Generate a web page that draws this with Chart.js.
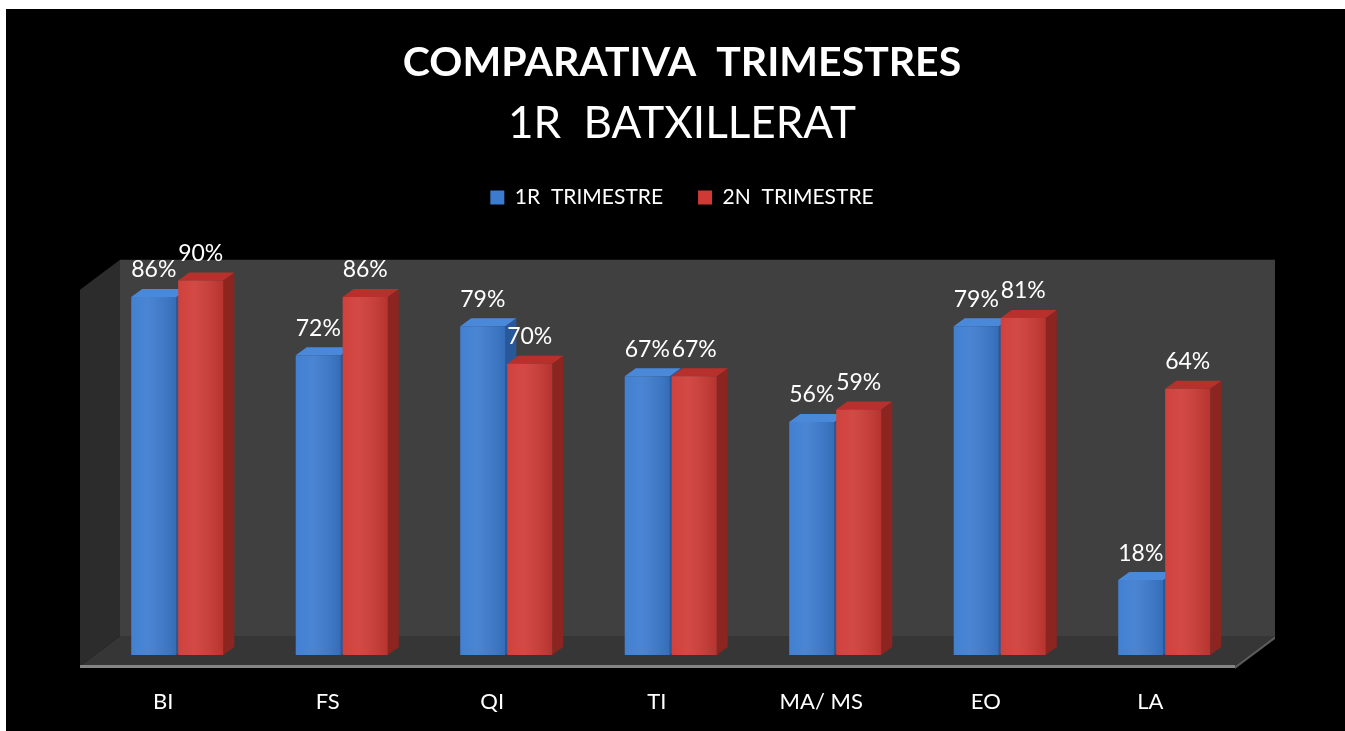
<!DOCTYPE html>
<html>
<head>
<meta charset="utf-8">
<script src="https://cdn.jsdelivr.net/npm/chart.js@4"></script>
<style>
  html, body { margin: 0; background: #fff; overflow: hidden; }
  #wrap { position: absolute; left: 6px; top: 9px; right: 0; bottom: 0; background: #000; }
  #chart { display: block; }
</style>
</head>
<body>
<div id="wrap"><canvas id="chart" width="1339" height="722"></canvas></div>
<script>
// data
const categories = ["BI", "FS", "QI", "TI", "MA/ MS", "EO", "LA"];
const seriesNames = ["1R  TRIMESTRE", "2N  TRIMESTRE"];
const trimestre1 = [86, 72, 79, 67, 56, 79, 18];
const trimestre2 = [90, 86, 70, 67, 59, 81, 64];

const blue = { front: "#3b7bd0", top: "#4a88da", side: "#28589a" };
const red = { front: "#cf3a35", top: "#b8302b", side: "#8c2420" };

Chart.defaults.font.family = "Lato";
Chart.defaults.color = "#fff";

// 3D look: walls, floor, bar tops and sides
const barDepth = { x: 11, y: -8 };
const wallDepth = { x: 40, y: -30 };

function poly(ctx, pts, fill) {
    ctx.beginPath();
    ctx.moveTo(pts[0][0], pts[0][1]);
    for (let i = 1; i < pts.length; i++) ctx.lineTo(pts[i][0], pts[i][1]);
    ctx.closePath();
    ctx.fillStyle = fill;
    ctx.fill();
}

const box3d = {
    id: "box3d",
    beforeDatasetsDraw(chart) {
        const { ctx, chartArea: a, scales: { y } } = chart;
        // back plane
        const bl = a.left + 25, br = a.right + 28.5;
        const bt = y.getPixelForValue(100) + 21, bb = a.bottom - 19;
        // front plane
        const fl = bl - wallDepth.x, fr = br - wallDepth.x;
        const ft = bt - wallDepth.y, fb = bb - wallDepth.y;

        ctx.save();
        poly(ctx, [[bl, bt], [br, bt], [br, bb], [bl, bb]], "#404040");
        poly(ctx, [[fl, ft], [bl, bt], [bl, bb], [fl, fb]], "#2c2c2c");
        poly(ctx, [[fl, fb], [fr, fb], [br, bb], [bl, bb]], "#363636");
        poly(ctx, [[fr, fb], [br, bb], [br, bb + 3], [fr, fb + 3]], "#5a5a5a");
        ctx.fillStyle = "#858585";
        ctx.fillRect(fl, fb - 1, fr - fl, 3);

        [blue, red].forEach((c, i) => {
            chart.getDatasetMeta(i).data.forEach(bar => {
                const l = bar.x - bar.width / 2, r = bar.x + bar.width / 2;
                const dx = barDepth.x, dy = barDepth.y;
                poly(ctx, [[r, bar.y], [r + dx, bar.y + dy], [r + dx, bar.base + dy], [r, bar.base]], c.side);
                poly(ctx, [[l, bar.y], [r, bar.y], [r + dx, bar.y + dy], [l + dx, bar.y + dy]], c.top);
            });
        });
        ctx.restore();
    },
    afterDatasetsDraw(chart) {
        const { ctx } = chart;
        ctx.save();
        ctx.font = "23px Lato";
        ctx.textAlign = "center";
        ctx.textBaseline = "middle";
        chart.data.datasets.forEach((ds, i) => {
            chart.getDatasetMeta(i).data.forEach((bar, j) => {
                const l = bar.x - bar.width / 2;
                const g = ctx.createLinearGradient(l, 0, l + bar.width, 0);
                g.addColorStop(0, "rgba(255,255,255,0.04)");
                g.addColorStop(0.35, "rgba(255,255,255,0.08)");
                g.addColorStop(1, "rgba(0,0,0,0.12)");
                ctx.fillStyle = g;
                ctx.fillRect(l, bar.y, bar.width, bar.base - bar.y);
                ctx.fillStyle = "#fff";
                ctx.fillText(ds.data[j] + "%", bar.x, bar.y - 27);
            });
        });
        ctx.restore();
    }
};

new Chart(document.getElementById("chart"), {
    type: "bar",
    data: {
        labels: categories,
        datasets: [
            { label: seriesNames[0], data: trimestre1, backgroundColor: blue.front },
            { label: seriesNames[1], data: trimestre2, backgroundColor: red.front }
        ]
    },
    options: {
        responsive: false,
        animation: false,
        categoryPercentage: 0.571,
        barPercentage: 0.96,
        layout: { padding: { left: 89, right: 76, top: 0, bottom: 15.8 } },
        plugins: {
            title: {
                display: true,
                text: "COMPARATIVA  TRIMESTRES",
                color: "#fff",
                font: { size: 41, weight: "bold" },
                padding: { top: 29, bottom: 0 }
            },
            subtitle: {
                display: true,
                text: "1R  BATXILLERAT",
                color: "#fff",
                font: { size: 44, weight: "normal" },
                padding: { top: 10, bottom: 2 }
            },
            legend: {
                labels: { color: "#fff", font: { size: 21 }, boxWidth: 14, boxHeight: 14, padding: 35 }
            },
            tooltip: { enabled: false }
        },
        scales: {
            x: {
                grid: { display: false, drawTicks: false },
                border: { display: false },
                ticks: { color: "#fff", font: { size: 22 }, padding: 33.8, labelOffset: -14, autoSkip: false, maxRotation: 0 },
                afterFit(scale) { scale.height = 60.2; }
            },
            y: {
                position: "right",
                min: 0,
                max: 105,
                grid: { display: false, drawTicks: false },
                border: { display: false },
                ticks: { display: false },
                afterFit(scale) { scale.width = 22.5; }
            }
        }
    },
    plugins: [box3d]
});
</script>
</body>
</html>
